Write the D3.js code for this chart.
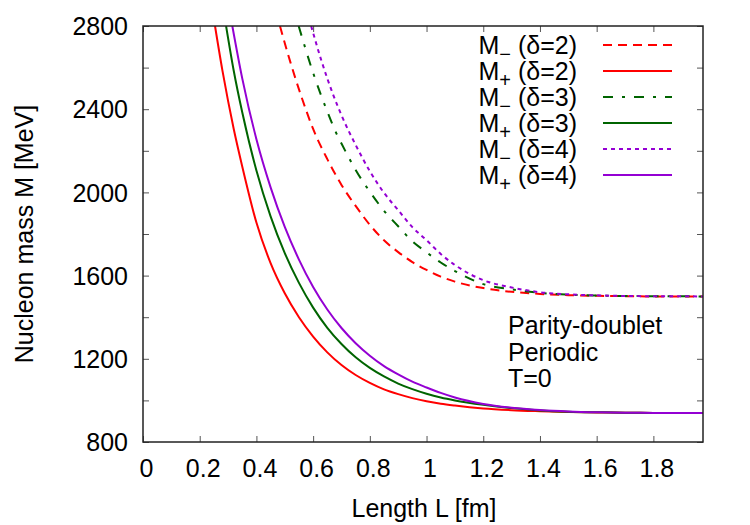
<!DOCTYPE html>
<html><head><meta charset="utf-8">
<script src="https://cdn.jsdelivr.net/npm/d3@7"></script>
<style>
body{margin:0;background:#fff}
text{font-family:"Liberation Sans",Arial,Helvetica,sans-serif;fill:#000}
</style>
</head><body>
<svg id="chart" width="750" height="525"></svg>
<script>
// ---------- data ----------
const xTickValues = [0, 0.2, 0.4, 0.6, 0.8, 1.0, 1.2, 1.4, 1.6, 1.8];
const yTickValues = [800, 1000, 1200, 1400, 1600, 1800, 2000, 2200, 2400, 2600, 2800];
const yLabelValues = [800, 1200, 1600, 2000, 2400, 2800];
const xDomain = [0, 1.975];
const yDomain = [800, 2800];

// M- (delta=2)
const L_minus2 = [0.483, 0.52, 0.56, 0.60, 0.65, 0.70, 0.75, 0.80, 0.85, 0.90, 0.95, 1.0, 1.05, 1.1, 1.2, 1.3, 1.4, 1.5, 1.6, 1.7, 1.8, 1.975];
const M_minus2 = [2800, 2625, 2455, 2305, 2160, 2036, 1935, 1844, 1770, 1713, 1665, 1627, 1595, 1571, 1540, 1522, 1512, 1506, 1503, 1501, 1500, 1500];
// M+ (delta=2)
const L_plus2 = [0.254, 0.28, 0.30, 0.32, 0.35, 0.40, 0.45, 0.50, 0.55, 0.60, 0.65, 0.70, 0.75, 0.80, 0.85, 0.90, 0.95, 1.00, 1.05, 1.10, 1.20, 1.30, 1.40, 1.50, 1.60, 1.70, 1.80, 1.975];
const M_plus2 = [2800, 2587, 2440, 2305, 2125, 1855, 1660, 1515, 1400, 1307, 1231, 1170, 1122, 1084, 1053, 1030, 1011, 996, 984, 975, 961, 953, 948, 944, 942, 941, 940, 939];
// M- (delta=3)
const L_minus3 = [0.549, 0.60, 0.65, 0.68, 0.70, 0.75, 0.80, 0.85, 0.90, 0.95, 1.0, 1.05, 1.1, 1.2, 1.3, 1.4, 1.5, 1.6, 1.7, 1.8, 1.975];
const M_minus3 = [2800, 2575, 2389, 2290, 2235, 2108, 2003, 1912, 1837, 1765, 1712, 1663, 1622, 1559, 1534, 1517, 1508, 1504, 1502, 1501, 1500];
// M+ (delta=3)
const L_plus3 = [0.293, 0.32, 0.35, 0.40, 0.45, 0.50, 0.55, 0.60, 0.65, 0.70, 0.75, 0.80, 0.85, 0.90, 0.95, 1.0, 1.05, 1.1, 1.2, 1.3, 1.4, 1.5, 1.6, 1.7, 1.8, 1.975];
const M_plus3 = [2800, 2585, 2385, 2105, 1885, 1708, 1565, 1446, 1349, 1271, 1207, 1156, 1115, 1081, 1054, 1032, 1014, 1000, 979, 963, 952, 946, 943, 941, 940, 939];
// M- (delta=4)
const L_minus4 = [0.593, 0.63, 0.67, 0.70, 0.75, 0.80, 0.85, 0.90, 0.95, 1.0, 1.05, 1.1, 1.2, 1.3, 1.4, 1.5, 1.6, 1.7, 1.8, 1.975];
const M_minus4 = [2800, 2630, 2472, 2371, 2228, 2102, 1998, 1915, 1833, 1770, 1704, 1651, 1578, 1543, 1520, 1510, 1505, 1502, 1501, 1500];
// M+ (delta=4)
const L_plus4 = [0.315, 0.35, 0.40, 0.45, 0.50, 0.55, 0.60, 0.65, 0.70, 0.75, 0.80, 0.85, 0.90, 0.95, 1.0, 1.05, 1.1, 1.2, 1.3, 1.4, 1.5, 1.6, 1.7, 1.8, 1.975];
const M_plus4 = [2800, 2548, 2255, 2024, 1834, 1677, 1545, 1437, 1348, 1275, 1215, 1165, 1125, 1090, 1062, 1036, 1014, 983, 965, 954, 947, 943, 941, 940, 939];

const seriesSign = ["−", "+", "−", "+", "−", "+"];
const seriesDelta = ["2", "2", "3", "3", "4", "4"];
const annotationLines = ["Parity-doublet", "Periodic", "T=0"];

// ---------- styles ----------
const styles = [
  {color: "#ff0000", dash: "9,6"},
  {color: "#ff0000", dash: null},
  {color: "#006400", dash: "10,9,3,9"},
  {color: "#006400", dash: null},
  {color: "#9400d3", dash: "4,4"},
  {color: "#9400d3", dash: null}
];
const seriesL = [L_minus2, L_plus2, L_minus3, L_plus3, L_minus4, L_plus4];
const seriesM = [M_minus2, M_plus2, M_minus3, M_plus3, M_minus4, M_plus4];
const series = seriesL.map((Ls, i) => ({
  points: Ls.map((l, j) => [l, seriesM[i][j]]),
  sign: seriesSign[i], delta: seriesDelta[i], ...styles[i]
}));

// ---------- layout ----------
const W = 750, H = 525;
const m = {left: 143, right: 47, top: 26, bottom: 83};
const FS = 25;
const svg = d3.select("#chart");
const x = d3.scaleLinear().domain(xDomain).range([m.left, W - m.right]);
const y = d3.scaleLinear().domain(yDomain).range([H - m.bottom, m.top]);

svg.append("defs").append("clipPath").attr("id", "clip")
  .append("rect").attr("x", m.left).attr("y", m.top)
  .attr("width", W - m.left - m.right).attr("height", H - m.top - m.bottom);

const tickLen = 6;
const fmtX = d => d3.format("~g")(d);

// bottom axis (ticks inward)
const xAxisB = svg.append("g").attr("transform", `translate(0,${H - m.bottom})`)
  .call(d3.axisBottom(x).tickValues(xTickValues).tickSizeInner(-tickLen).tickSizeOuter(0).tickFormat(fmtX).tickPadding(0));
xAxisB.select(".domain").remove();
xAxisB.selectAll(".tick line").attr("stroke", "#555");
xAxisB.selectAll(".tick text").attr("font-size", FS).attr("dy", null).attr("y", 35).attr("x", 3);

// top mirror ticks
const xAxisT = svg.append("g").attr("transform", `translate(0,${m.top})`)
  .call(d3.axisTop(x).tickValues(xTickValues).tickSizeInner(-tickLen).tickSizeOuter(0).tickFormat(""));
xAxisT.select(".domain").remove();
xAxisT.selectAll(".tick line").attr("stroke", "#555");

// left axis
const yAxisL = svg.append("g").attr("transform", `translate(${m.left},0)`)
  .call(d3.axisLeft(y).tickValues(yTickValues).tickSizeInner(-tickLen).tickSizeOuter(0)
    .tickFormat(d => yLabelValues.includes(d) ? d : "").tickPadding(0));
yAxisL.select(".domain").remove();
yAxisL.selectAll(".tick line").attr("stroke", "#555");
yAxisL.selectAll(".tick text").attr("font-size", FS).attr("x", -15).attr("dy", "0.35em");

// right mirror ticks
const yAxisR = svg.append("g").attr("transform", `translate(${W - m.right},0)`)
  .call(d3.axisRight(y).tickValues(yTickValues).tickSizeInner(-tickLen).tickSizeOuter(0).tickFormat(""));
yAxisR.select(".domain").remove();
yAxisR.selectAll(".tick line").attr("stroke", "#555");

// curves
const line = d3.line().x(d => x(d[0])).y(d => y(d[1])).curve(d3.curveMonotoneX);
const gCurves = svg.append("g").attr("clip-path", "url(#clip)");
series.forEach(s => {
  gCurves.append("path").attr("d", line(s.points))
    .attr("fill", "none").attr("stroke", s.color).attr("stroke-width", 2)
    .attr("stroke-dasharray", s.dash);
});

// frame
svg.append("rect").attr("x", m.left).attr("y", m.top)
  .attr("width", W - m.left - m.right).attr("height", H - m.top - m.bottom)
  .attr("fill", "none").attr("stroke", "#222").attr("stroke-width", 1.5);

// axis titles
svg.append("text").attr("x", 424).attr("y", 517)
  .attr("text-anchor", "middle").attr("font-size", FS).text("Length L [fm]");
svg.append("text").attr("transform", "translate(33,234) rotate(-90)")
  .attr("text-anchor", "middle").attr("font-size", FS).text("Nucleon mass M [MeV]");

// legend
const legX0 = 603, legX1 = 672, legTextX = 577, legY0 = 45, legDY = 26;
series.forEach((s, i) => {
  const yy = legY0 + i * legDY;
  svg.append("line").attr("x1", legX0).attr("x2", legX1).attr("y1", yy).attr("y2", yy)
    .attr("stroke", s.color).attr("stroke-width", 2).attr("stroke-dasharray", s.dash);
  const t = svg.append("text").attr("x", legTextX).attr("y", yy + 9)
    .attr("text-anchor", "end").attr("font-size", FS);
  t.append("tspan").text("M");
  t.append("tspan").attr("font-size", FS * 0.8).attr("dy", 7).text(s.sign);
  t.append("tspan").attr("dy", -7).text(" (δ=" + s.delta + ")");
});

// annotation
annotationLines.forEach((txt, i) => {
  svg.append("text").attr("x", 508).attr("y", 334 + i * 26.5)
    .attr("font-size", FS).text(txt);
});
</script>
</body></html>
